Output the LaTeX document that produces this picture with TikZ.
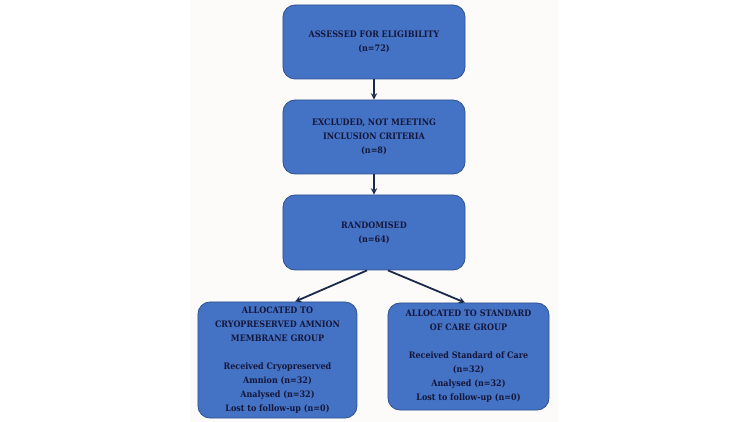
\documentclass[tikz,border=0pt]{standalone}
\usepackage{fontspec}
\setmainfont{DejaVu Serif Condensed}
\usepackage{tikz}
\usetikzlibrary{shapes, arrows}

\definecolor{boxfill}{HTML}{4472C4}
\definecolor{boxline}{HTML}{2F528F}
\definecolor{boxtext}{HTML}{14173A}
\definecolor{arrowcol}{HTML}{1B2A4A}
\definecolor{page}{HTML}{FCFBF9}

\tikzstyle{block} = [rectangle, draw=boxline, fill=boxfill, text=boxtext,
    align=center, rounded corners=12pt, inner sep=2pt, line width=0.8pt,
    font=\fontsize{8.9}{14}\selectfont\bfseries]
\tikzstyle{arrow} = [line width=1.8pt, draw=arrowcol, ->, >=stealth]

\begin{document}
\begin{tikzpicture}[node distance = 95pt]
% frame and page
\useasboundingbox (-374pt,42pt) rectangle (376pt,-380pt);
\fill[page] (-184pt,42pt) rectangle (184pt,-380pt);

\node [block, minimum width=182pt, minimum height=74pt] (assess) {ASSESSED FOR ELIGIBILITY\\(n=72)};
\node [block, below of=assess, minimum width=182pt, minimum height=74pt] (excl) {EXCLUDED, NOT MEETING\\INCLUSION CRITERIA\\(n=8)};
\node [block, below of=excl, node distance=95.5pt, minimum width=182pt, minimum height=75pt] (rand) {RANDOMISED\\(n=64)};
\node [block, below of=rand, node distance=127.5pt, xshift=-96.5pt, minimum width=159pt, minimum height=116pt] (amnion) {ALLOCATED TO\\CRYOPRESERVED AMNION\\MEMBRANE GROUP\\[14pt]Received Cryopreserved\\Amnion (n=32)\\Analysed (n=32)\\Lost to follow-up (n=0)};
\node [block, below of=rand, node distance=124pt, xshift=94.5pt, minimum width=161pt, minimum height=107pt] (care) {ALLOCATED TO STANDARD\\OF CARE GROUP\\[14pt]Received Standard of Care\\(n=32)\\Analysed (n=32)\\Lost to follow-up (n=0)};

\path [arrow] (assess) -- (excl);
\path [arrow] (excl) -- (rand);
\path [arrow] ([xshift=-7pt]rand.south) -- ([xshift=17.5pt]amnion.north);
\path [arrow] ([xshift=14pt]rand.south) -- ([xshift=-3.5pt]care.north);

\end{tikzpicture}
\end{document}
